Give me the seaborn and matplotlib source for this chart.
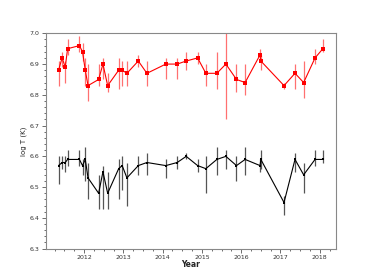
import numpy as np
import pandas as pd
import seaborn as sns
from matplotlib import pyplot as plt
from matplotlib.ticker import MultipleLocator

# observation times (decimal year)
year = [2011.35, 2011.44, 2011.52, 2011.58, 2011.88, 2011.96, 2012.03, 2012.10,
        2012.37, 2012.48, 2012.60, 2012.88, 2012.97, 2013.09, 2013.38, 2013.60,
        2014.08, 2014.37, 2014.60, 2014.89, 2015.10, 2015.38, 2015.61, 2015.88,
        2016.10, 2016.48, 2016.50, 2017.09, 2017.37, 2017.59, 2017.88, 2018.08]

# hot component
hot = [6.88, 6.92, 6.89, 6.95, 6.96, 6.94, 6.88, 6.83, 6.85, 6.90, 6.83, 6.88,
       6.88, 6.87, 6.91, 6.87, 6.90, 6.90, 6.91, 6.92, 6.87, 6.87, 6.90, 6.85,
       6.84, 6.93, 6.91, 6.83, 6.87, 6.84, 6.92, 6.95]
hot_lo = [6.83, 6.89, 6.84, 6.93, 6.94, 6.91, 6.83, 6.78, 6.83, 6.85, 6.81, 6.82,
          6.83, 6.83, 6.89, 6.83, 6.85, 6.85, 6.88, 6.90, 6.83, 6.82, 6.72, 6.81,
          6.80, 6.91, 6.88, 6.82, 6.82, 6.79, 6.90, 6.94]
hot_hi = [6.91, 6.94, 6.91, 6.98, 6.99, 6.97, 6.92, 6.90, 6.90, 6.92, 6.87, 6.92,
          6.91, 6.91, 6.93, 6.91, 6.92, 6.92, 6.94, 6.94, 6.90, 6.94, 7.02, 6.90,
          6.90, 6.95, 6.93, 6.84, 6.90, 6.91, 6.95, 6.98]

# cool component
cool = [6.57, 6.58, 6.58, 6.59, 6.59, 6.57, 6.59, 6.53, 6.48, 6.55, 6.48, 6.56,
        6.57, 6.53, 6.57, 6.58, 6.57, 6.58, 6.60, 6.57, 6.56, 6.59, 6.60, 6.57,
        6.59, 6.57, 6.59, 6.45, 6.59, 6.54, 6.59, 6.59]
cool_lo = [6.51, 6.56, 6.55, 6.57, 6.57, 6.54, 6.52, 6.46, 6.43, 6.43, 6.43, 6.46,
           6.49, 6.44, 6.54, 6.54, 6.53, 6.56, 6.59, 6.55, 6.48, 6.54, 6.56, 6.52,
           6.54, 6.55, 6.56, 6.41, 6.55, 6.48, 6.57, 6.58]
cool_hi = [6.60, 6.60, 6.60, 6.62, 6.62, 6.59, 6.63, 6.58, 6.54, 6.57, 6.55, 6.59,
           6.60, 6.58, 6.60, 6.61, 6.59, 6.60, 6.61, 6.59, 6.60, 6.63, 6.62, 6.60,
           6.63, 6.59, 6.62, 6.47, 6.61, 6.58, 6.62, 6.62]

df = pd.DataFrame({'year': year, 'hot': hot, 'cool': cool})

sns.set_style('ticks')
fig = plt.figure(figsize=(3.74, 2.80), dpi=100)
ax = fig.add_axes([0.123, 0.112, 0.775, 0.769])

hot_a = np.array(hot)
cool_a = np.array(cool)
ax.errorbar(year, hot, yerr=[hot_a - np.array(hot_lo), np.array(hot_hi) - hot_a],
            fmt='none', ecolor='#ff7070', elinewidth=0.9, capsize=0, zorder=1)
ax.errorbar(year, cool, yerr=[cool_a - np.array(cool_lo), np.array(cool_hi) - cool_a],
            fmt='none', ecolor='#555555', elinewidth=0.9, capsize=0, zorder=1)

sns.lineplot(data=df, x='year', y='hot', color='red', marker='s', markersize=2.5,
             markeredgewidth=0, linewidth=0.8, ax=ax, zorder=2)
sns.lineplot(data=df, x='year', y='cool', color='black', marker='s', markersize=2,
             markeredgewidth=0, linewidth=0.8, ax=ax, zorder=2)

ax.set_xlim(2011.03, 2018.41)
ax.set_ylim(6.3, 7.0)
ax.xaxis.set_major_locator(MultipleLocator(1))
ax.xaxis.set_minor_locator(MultipleLocator(0.25))
ax.yaxis.set_major_locator(MultipleLocator(0.1))
ax.yaxis.set_minor_locator(MultipleLocator(0.02))
ax.yaxis.set_major_formatter(plt.FormatStrFormatter('%.1f'))
ax.tick_params(which='major', length=3, width=0.5, labelsize=4.5, colors='#333333', pad=1.5)
ax.tick_params(which='minor', length=1.5, width=0.5, colors='#333333')
for s in ax.spines.values():
    s.set_linewidth(0.8)
    s.set_color('#888888')
ax.set_xlabel('Year', fontsize=5.5, fontweight='bold', labelpad=0)
ax.set_ylabel('log T (K)', fontsize=5, labelpad=2)

fig.savefig('out.png', dpi=100)
